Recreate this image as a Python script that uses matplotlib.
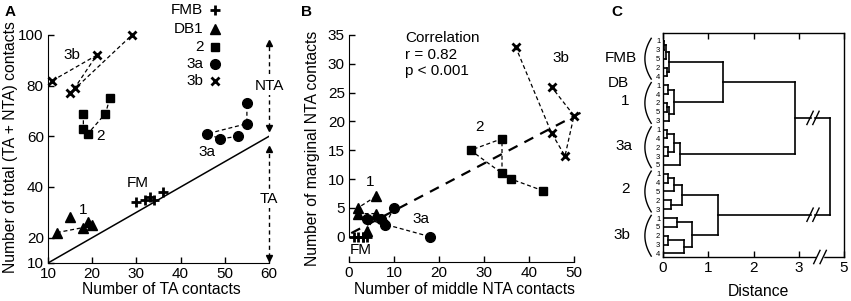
import numpy as np
import matplotlib
matplotlib.use("Agg")
import matplotlib.pyplot as plt

plt.rcParams['font.family'] = ['Liberation Sans', 'DejaVu Sans']
plt.rcParams['font.size'] = 11

# ---------------- Data: panel A (TA vs total) ----------------
fmb_a_x = [30, 32, 33, 34, 36]
fmb_a_y = [34, 35, 36, 35, 38]
db1_a_x = [12, 18, 19, 20, 15]
db1_a_y = [22, 24, 26, 25, 28]
db1_a_path = [0, 1, 2, 3]
g2_a_x = [18, 18, 19, 23, 24]
g2_a_y = [69, 63, 61, 69, 75]
g2_a_path = [0, 1, 2, 3, 4]
g3a_a_x = [53, 49, 46, 55, 55]
g3a_a_y = [60, 59, 61, 65, 73]
g3a_a_path = [0, 1, 2, 3, 4]
g3b_a_x = [11, 21, 16, 15, 29]
g3b_a_y = [82, 92, 79, 77, 100]
g3b_a_path = [0, 1, 2, 3, 4]

# ---------------- Data: panel B (middle vs marginal NTA) ----------------
fmb_b_x = [1, 2, 3, 3, 4]
fmb_b_y = [0, 0, 0, 0, 0]
db1_b_x = [6, 2, 2, 6, 4]
db1_b_y = [7, 5, 4, 4, 1]
db1_b_path = [0, 1, 2, 3, 4]
g2_b_x = [27, 34, 34, 36, 43]
g2_b_y = [15, 17, 11, 10, 8]
g2_b_path = [2, 1, 0, 2, 3, 4]
g3a_b_x = [4, 7, 8, 10, 18]
g3a_b_y = [3, 3, 2, 5, 0]
g3a_b_path = [3, 2, 1, 0, 4]
g3b_b_x = [37, 45, 48, 50, 45]
g3b_b_y = [33, 18, 14, 21, 26]
g3b_b_path = [0, 1, 2, 3, 4]
reg_slope = 0.41
reg_intercept = 0.4
reg_range = [0.5, 52.5]

# ---------------- Data: panel C (dendrogram) ----------------
group_names = ['FMB', 'DB', '1', '3a', '2', '3b']
leaf_labels = ['1', '3', '5', '2', '4',
               '1', '4', '2', '5', '3',
               '1', '4', '2', '3', '5',
               '1', '4', '5', '2', '3',
               '1', '5', '2', '3', '4']
# (child a, child b, distance) ; new node ids start at 25
merges = [
    (0, 1, 0.03), (25, 2, 0.06), (3, 4, 0.09), (26, 27, 0.13),      # FMB
    (5, 6, 0.12), (7, 8, 0.08), (30, 9, 0.14), (29, 31, 0.24),      # DB1
    (10, 11, 0.09), (12, 13, 0.11), (33, 34, 0.24), (35, 14, 0.38),  # 3a
    (15, 16, 0.12), (37, 17, 0.24), (18, 19, 0.17), (38, 39, 0.41),  # 2
    (20, 21, 0.32), (22, 23, 0.12), (42, 24, 0.46), (41, 43, 0.63),  # 3b
    (28, 32, 1.33), (45, 36, 2.91), (40, 44, 1.22), (46, 47, 3.69),
]
dist_ticks = [0, 1, 2, 3, 4]
dist_tick_labels = ['0', '1', '2', '3', '5']

W, H = 851, 301
fig = plt.figure(figsize=(W / 100, H / 100), dpi=100)

FS_TICK = 11
FS_LAB = 11.3
FS_TXT = 11


def ax_px(left, top, right, bottom):
    return fig.add_axes([left / W, 1 - bottom / H, (right - left) / W, (bottom - top) / H])


lw_dash = 0.9
dash = (0, (3.2, 2.2))

# ======================= Panel A =======================
axA = ax_px(48, 35, 269, 263)
axA.set_xlim(10, 60)
axA.set_ylim(10, 100)
for s in ['top', 'right']:
    axA.spines[s].set_visible(False)
axA.set_xticks([10, 20, 30, 40, 50, 60])
axA.set_yticks([10, 20, 40, 60, 80, 100])
axA.tick_params(direction='in', length=4, width=1, labelsize=FS_TICK, pad=3)
axA.plot([10, 60], [10, 60], color='black', lw=1.1)


def draw_group(ax, xs, ys, path, marker, ms, mew=1.0):
    if path is not None:
        px = [xs[i] for i in path]
        py = [ys[i] for i in path]
        ax.plot(px, py, color='black', lw=lw_dash, linestyle=dash, zorder=2)
    ax.plot(xs, ys, linestyle='none', marker=marker, ms=ms, color='black',
            mec='black', mew=mew, zorder=3, clip_on=False)


draw_group(axA, fmb_a_x, fmb_a_y, None, '+', 7, 2.0)
draw_group(axA, db1_a_x, db1_a_y, db1_a_path, '^', 7)
draw_group(axA, g2_a_x, g2_a_y, g2_a_path, 's', 5.8)
draw_group(axA, g3a_a_x, g3a_a_y, g3a_a_path, 'o', 7)
draw_group(axA, g3b_a_x, g3b_a_y, g3b_a_path, 'x', 6, 2.0)

axA.text(15.4, 92, '3b', ha='center', va='center', fontsize=FS_TXT)
axA.text(21.8, 60, '2', ha='center', va='center', fontsize=FS_TXT)
axA.text(46, 54, '3a', ha='center', va='center', fontsize=FS_TXT)
axA.text(30.4, 41.6, 'FM', ha='center', va='center', fontsize=FS_TXT)
axA.text(18, 31, '1', ha='center', va='center', fontsize=FS_TXT)

# dashed double arrows at x=60
for (y0, y1, lab, ylab) in [(61.7, 98.4, 'NTA', 80), (10.4, 56.6, 'TA', 35.3)]:
    axA.plot([60, 60], [y0 + 2, y1 - 2], color='black', lw=1.0, linestyle=(0, (3, 2.5)), clip_on=False)
    axA.plot([60], [y1 - 1.6], marker='^', ms=5, color='black', clip_on=False)
    axA.plot([60], [y0 + 1.6], marker='v', ms=5, color='black', clip_on=False)
    axA.text(60, ylab, lab, ha='center', va='center', fontsize=FS_TXT,
             bbox=dict(facecolor='white', edgecolor='none', pad=1.5), clip_on=False, zorder=5)

# legend
leg_items = [('FMB', '+', 7, 2.0), ('DB1', '^', 7, 1.0), ('2', 's', 5.8, 1.0),
             ('3a', 'o', 7, 1.0), ('3b', 'x', 6, 2.0)]
leg_y = [1.11, 1.026, 0.947, 0.873, 0.798]
for (lab, mk, ms, mew), yy in zip(leg_items, leg_y):
    axA.text(0.703, yy, lab, transform=axA.transAxes, ha='right', va='center', fontsize=FS_TXT)
    axA.plot([0.757], [yy], transform=axA.transAxes, marker=mk, ms=ms, mew=mew,
             color='black', linestyle='none', clip_on=False)

fig.text(11 / W, 1 - 147 / H, 'Number of total (TA + NTA) contacts', rotation=90,
         ha='center', va='center', fontsize=FS_LAB)
fig.text(161 / W, 1 - 290 / H, 'Number of TA contacts', ha='center', va='center', fontsize=FS_LAB)
fig.text(10 / W, 1 - 12 / H, 'A', fontweight='bold', ha='center', va='center', fontsize=11)

# ======================= Panel B =======================
x0B = 349
axB = ax_px(x0B, 35, x0B + 53 * 4.5, 262)
axB.set_xlim(0, 53)
axB.set_ylim(-4.4, 35)
for s in ['top', 'right']:
    axB.spines[s].set_visible(False)
axB.spines['left'].set_bounds(0, 35)
axB.spines['bottom'].set_bounds(0, 50)
axB.set_xticks([0, 10, 20, 30, 40, 50])
axB.set_yticks([0, 5, 10, 15, 20, 25, 30, 35])
axB.tick_params(direction='in', length=4, width=1, labelsize=FS_TICK, pad=3)

rx = np.array(reg_range)
axB.plot(rx, reg_slope * rx + reg_intercept, color='black', lw=1.6,
         linestyle=(0, (4.5, 3.5)), zorder=2, clip_on=False)

draw_group(axB, fmb_b_x, fmb_b_y, None, '+', 7, 2.0)
draw_group(axB, db1_b_x, db1_b_y, db1_b_path, '^', 7)
draw_group(axB, g2_b_x, g2_b_y, g2_b_path, 's', 5.8)
draw_group(axB, g3a_b_x, g3a_b_y, g3a_b_path, 'o', 7)
draw_group(axB, g3b_b_x, g3b_b_y, g3b_b_path, 'x', 6, 2.0)

axB.text(2.7, -2.4, 'FM', ha='center', va='center', fontsize=FS_TXT)
axB.text(4.8, 9.4, '1', ha='center', va='center', fontsize=FS_TXT)
axB.text(16, 3, '3a', ha='center', va='center', fontsize=FS_TXT)
axB.text(29, 19, '2', ha='center', va='center', fontsize=FS_TXT)
axB.text(47, 31, '3b', ha='center', va='center', fontsize=FS_TXT)
axB.text(12.4, 35.7, 'Correlation\nr = 0.82\np < 0.001', ha='left', va='top',
         linespacing=1.25, fontsize=FS_TXT)

fig.text(313 / W, 1 - 148 / H, 'Number of marginal NTA contacts', rotation=90,
         ha='center', va='center', fontsize=FS_LAB)
fig.text(465 / W, 1 - 290 / H, 'Number of middle NTA contacts', ha='center', va='center', fontsize=FS_LAB)
fig.text(307 / W, 1 - 12 / H, 'B', fontweight='bold', ha='center', va='center', fontsize=11)

# ======================= Panel C =======================
axC = ax_px(663, 33, 844, 257)
n = len(leaf_labels)
axC.set_xlim(0, 4)
axC.set_ylim(n - 1 + 0.4, -0.9)
axC.set_xticks(dist_ticks)
axC.set_xticklabels(dist_tick_labels)
axC.set_yticks(range(n))
axC.set_yticklabels(leaf_labels, fontsize=5.5)
axC.tick_params(axis='y', length=0, pad=2)
axC.tick_params(axis='x', direction='in', length=4, width=1, labelsize=FS_TICK, pad=3, top=True)
for s in axC.spines.values():
    s.set_linewidth(1.0)

pos = {i: (0.0, float(i)) for i in range(n)}
break_lo, break_hi = 3.27, 3.36
lw_d = 1.2


def hline(y, xa, xb):
    lo, hi = min(xa, xb), max(xa, xb)
    if lo < break_lo and hi > break_hi:
        axC.plot([lo, break_lo], [y, y], color='black', lw=lw_d)
        axC.plot([break_hi, hi], [y, y], color='black', lw=lw_d)
        for bx in (break_lo - 0.02, break_hi + 0.02):
            axC.plot([bx - 0.07, bx + 0.07], [y + 0.75, y - 0.75], color='black', lw=1.0)
    else:
        axC.plot([lo, hi], [y, y], color='black', lw=lw_d)


node = n
for a, b, h in merges:
    xa, ya = pos[a]
    xb, yb = pos[b]
    hline(ya, xa, h)
    hline(yb, xb, h)
    axC.plot([h, h], [ya, yb], color='black', lw=lw_d)
    pos[node] = (h, (ya + yb) / 2)
    node += 1

# axis break on bottom spine
ybot = n - 1 + 0.4
axC.plot([3.42, 3.52], [ybot, ybot], color='white', lw=2.5, clip_on=False, zorder=6)
for bx in (3.4, 3.54):
    axC.plot([bx - 0.07, bx + 0.07], [ybot + 0.75, ybot - 0.75], color='black', lw=1.0,
             clip_on=False, zorder=7)

# group brackets and labels
for g in range(5):
    c = g * 5 + 2
    s = np.linspace(-1, 1, 40)
    xs = -0.26 - 0.14 * (1 - s ** 2)
    ys = c + s * 2.3
    axC.plot(xs, ys, color='black', lw=1.0, clip_on=False)
for name, (lx, ly) in zip(group_names,
                          [(-0.93, 1.9), (-0.98, 4.7), (-0.84, 6.8), (-0.87, 11.9), (-0.82, 16.7), (-0.9, 21.9)]):
    axC.text(lx, ly, name, ha='center', va='center', clip_on=False, fontsize=FS_TXT)

fig.text(758 / W, 1 - 292 / H, 'Distance', ha='center', va='center', fontsize=FS_LAB)
fig.text(617 / W, 1 - 12 / H, 'C', fontweight='bold', ha='center', va='center', fontsize=11)

fig.savefig('out.png', dpi=100)
